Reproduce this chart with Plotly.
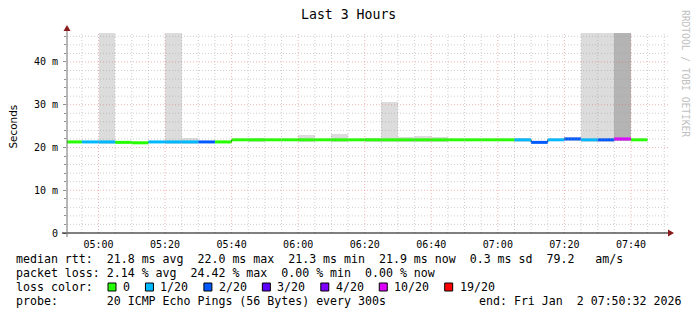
import pandas as pd
import plotly.graph_objects as go

# ---------------- data ----------------
DAY = "2026-01-02"
interval_start = ["04:50", "04:55", "05:00", "05:05", "05:10", "05:15", "05:20", "05:25",
                  "05:30", "05:35", "05:40", "05:45", "05:50", "05:55", "06:00", "06:05",
                  "06:10", "06:15", "06:20", "06:25", "06:30", "06:35", "06:40", "06:45",
                  "06:50", "06:55", "07:00", "07:05", "07:10", "07:15", "07:20", "07:25",
                  "07:30", "07:35", "07:40"]
median_ms = [21.3, 21.3, 21.3, 21.2, 21.1, 21.3, 21.3, 21.3,
             21.3, 21.3, 21.8, 21.8, 21.8, 21.8, 21.8, 21.8,
             21.8, 21.8, 21.8, 21.8, 21.8, 21.8, 21.8, 21.8,
             21.8, 21.8, 21.8, 21.8, 21.2, 21.8, 22.0, 21.8,
             21.8, 22.0, 21.8]
loss_of_20 = [0, 1, 1, 0, 0, 1, 1, 1,
              2, 0, 0, 0, 0, 0, 0, 0,
              0, 0, 0, 0, 0, 0, 0, 0,
              0, 0, 0, 1, 2, 1, 2, 1,
              2, 10, 0]
# upper edge of the light smoke (ms); None = no visible smoke
smoke_hi_ms = [None, None, 55.0, None, None, None, 55.0, 22.3,
               None, None, None, 22.3, None, None, 22.9, None,
               23.2, None, 22.2, 30.7, 22.4, 22.7, 22.5, None,
               None, None, None, 22.3, None, None, 22.4, 55.0,
               55.0, None, None]
# upper edge of the dark smoke (ms)
smoke_dark_hi_ms = [None] * 33 + [55.0, None]

loss_labels = ["0", "1/20", "2/20", "3/20", "4/20", "10/20", "19/20"]
loss_levels = [0, 1, 2, 3, 4, 10, 19]
loss_colors = ["#26ff00", "#00b8ff", "#0059ff", "#5e00ff", "#7e00ff", "#dd00ff", "#ff0000"]

y_tick_vals = [0, 10, 20, 30, 40]
y_tick_text = ["0", "10 m", "20 m", "30 m", "40 m"]

title_text = "Last 3 Hours"
rtt_stats = ["21.8 ms avg", "22.0 ms max", "21.3 ms min", "21.9 ms now", "0.3 ms sd", "79.2   am/s"]
loss_stats = ["2.14 % avg", "24.42 % max", "0.00 % min", "0.00 % now"]
probe_text = "20 ICMP Echo Pings (56 Bytes) every 300s"
end_text = "end: Fri Jan  2 07:50:32 2026"
watermark = "RRDTOOL / TOBI OETIKER"

x_start = DAY + " 04:50:32"
x_end = DAY + " 07:50:32"
y_top = 46.78

# ---------------- layout geometry (pixels) ----------------
W, H = 697, 315
L, R, T, B = 67, 31, 33, 82
PW, PH = W - L - R, H - T - B
MONO = "DejaVu Sans Mono"


def px(x):
    return (x - L) / PW


def py(y):
    return (H - B - y) / PH


starts = pd.to_datetime([f"{DAY} {s}" for s in interval_start])
step = pd.Timedelta(minutes=5)
centers = starts + step / 2

fig = go.Figure()

# smoke
lo = [m - 0.4 for m in median_ms]
for hi, col in [(smoke_hi_ms, "#dcdcdc"), (smoke_dark_hi_ms, "#b4b4b4")]:
    xs, base, hgt = [], [], []
    for c, l, h in zip(centers, lo, hi):
        if h is not None:
            xs.append(c)
            base.append(l)
            hgt.append(h - l)
    fig.add_trace(go.Bar(x=xs, y=hgt, base=base, width=300000, marker_color=col,
                         marker_line_width=0, showlegend=False, hoverinfo="skip"))

# dark step connector under the median band
fig.add_trace(go.Scatter(x=list(starts) + [starts[-1] + step], y=median_ms + [median_ms[-1]],
                         mode="lines", line=dict(color="#202020", width=1, shape="hv"),
                         showlegend=False, hoverinfo="skip"))

# median rtt coloured by loss
for lvl, col in zip(loss_levels, loss_colors):
    xs, ys = [], []
    for s, m, lo_ in zip(starts, median_ms, loss_of_20):
        if lo_ == lvl:
            xs += [s, s + step, None]
            ys += [m, m, None]
    if xs:
        fig.add_trace(go.Scatter(x=xs, y=ys, mode="lines", line=dict(color=col, width=3),
                                 showlegend=False, hoverinfo="skip"))

MINOR_C = "rgba(160,160,160,0.5)"
MAJOR_C = "rgba(225,90,90,0.45)"
shapes = []
# grid (drawn above everything, like rrdtool)
t = pd.Timestamp(DAY + " 04:55")
while t <= pd.Timestamp(DAY + " 07:50"):
    major = t.minute % 20 == 0
    shapes.append(dict(type="line", xref="x", yref="paper", x0=t, x1=t, y0=0, y1=1, layer="above",
                       line=dict(color=MAJOR_C if major else MINOR_C, width=1, dash="1px,2px")))
    t += step
for v in range(2, 47, 2):
    major = v % 10 == 0
    shapes.append(dict(type="line", xref="paper", yref="y", x0=0, x1=px(668), y0=v, y1=v, layer="above",
                       line=dict(color=MAJOR_C if major else MINOR_C, width=1, dash="1px,2px")))
# axes + arrows
shapes.append(dict(type="line", xref="paper", yref="paper", x0=px(62), x1=px(670), y0=0, y1=0,
                   line=dict(color="#000000", width=1), layer="above"))
shapes.append(dict(type="line", xref="paper", yref="paper", x0=0, x1=0, y0=py(237), y1=py(29),
                   line=dict(color="#707070", width=1), layer="above"))
shapes.append(dict(type="path", xref="paper", yref="paper", layer="above",
                   path=f"M {px(63.5)} {py(31)} L {px(70.5)} {py(31)} L {px(67)} {py(25)} Z",
                   fillcolor="#8b1a1a", line=dict(width=0)))
shapes.append(dict(type="path", xref="paper", yref="paper", layer="above",
                   path=f"M {px(668)} {py(229.5)} L {px(668)} {py(236.5)} L {px(674)} {py(233)} Z",
                   fillcolor="#8b1a1a", line=dict(width=0)))

NB = "\u00a0"
annotations = []


def text(x, y, s, size=11.6, anchor="left", font=MONO, color="#000000", angle=0):
    annotations.append(dict(x=px(x), y=py(y), xref="paper", yref="paper", text=s.replace(" ", NB),
                            showarrow=False, xanchor=anchor, yanchor="middle", textangle=angle,
                            borderpad=0, borderwidth=0,
                            font=dict(family=font, size=size, color=color)))


text(348, 14, title_text, size=13.2, anchor="center")
text(12.5, 127, "Seconds", size=10.4, anchor="center", font="DejaVu Sans", angle=-90)
text(686, 73, watermark, size=9.6, anchor="center", color="#c0c0c0", angle=90)

text(16, 259, "median rtt:  " + "  ".join(rtt_stats))
text(16, 273, "packet loss: " + "  ".join(loss_stats))
text(16, 287, "loss color:")
text(16, 301, "probe:       " + probe_text)
text(681, 301, end_text, anchor="right")

CW = 7.0
bx = 108.0
for lab, col in zip(loss_labels, loss_colors):
    shapes.append(dict(type="rect", xref="paper", yref="paper", x0=px(bx), x1=px(bx + 8),
                       y0=py(291), y1=py(283), fillcolor=col, line=dict(color="#000000", width=1)))
    text(bx + 15, 287, lab)
    bx += CW * (len(lab) + 4.35)

fig.update_layout(
    width=W, height=H, margin=dict(l=L, r=R, t=T, b=B, pad=0),
    plot_bgcolor="#ffffff", paper_bgcolor="#ffffff",
    barmode="overlay", bargap=0, showlegend=False,
    shapes=shapes, annotations=annotations,
    xaxis=dict(type="date", range=[x_start, x_end], showgrid=False, zeroline=False, showline=False,
               tickformat="%H:%M", dtick=20 * 60 * 1000, tick0=DAY + " 05:00", ticks="outside",
               ticklen=2, tickcolor="rgba(0,0,0,0)",
               tickfont=dict(family=MONO, size=10, color="#000000")),
    yaxis=dict(range=[0, y_top], showgrid=False, zeroline=False, showline=False,
               tickvals=y_tick_vals, ticktext=y_tick_text, ticks="outside", ticklen=3,
               tickcolor="#909090", ticklabelstandoff=3,
               minor=dict(dtick=2, ticks="outside", ticklen=2, tickcolor="#909090", showgrid=False),
               tickfont=dict(family=MONO, size=10, color="#000000")),
)

fig.write_html("out.html")
